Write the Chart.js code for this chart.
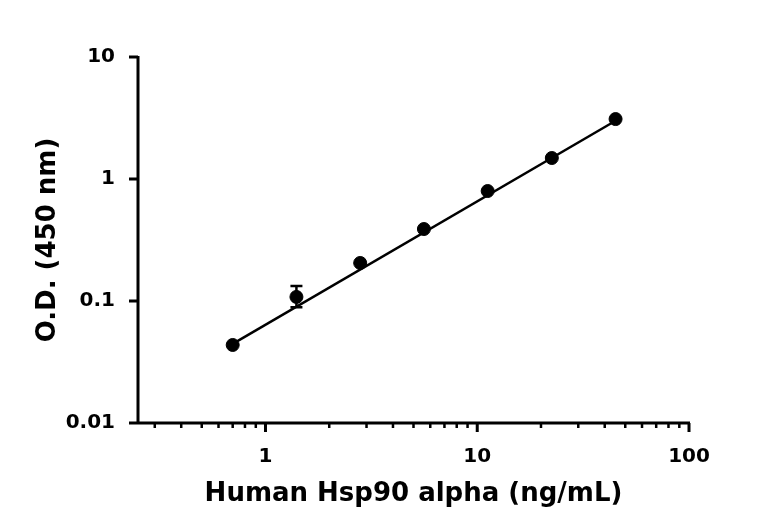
<!DOCTYPE html>
<html>
<head>
<meta charset="utf-8">
<script src="https://cdn.jsdelivr.net/npm/chart.js@4"></script>
<style>body{margin:0;background:#fff}</style>
</head>
<body>
<canvas id="c" width="768" height="532"></canvas>
<script>
// standard curve data
const conc = [0.7, 1.4, 2.8, 5.6, 11.2, 22.5, 45]
const od = [0.0436, 0.108, 0.205, 0.389, 0.797, 1.486, 3.10]
const odLow = [null, 0.089, null, null, null, null, null]
const odHigh = [null, 0.133, null, null, null, null, null]
const fitX = [0.7, 45]
const fitY = [0.0445, 3.0]
const xMajor = [1, 10, 100]
const xMinor = [0.3,0.4,0.5,0.6,0.7,0.8,0.9,2,3,4,5,6,7,8,9,20,30,40,50,60,70,80,90]
const yMajor = [0.01, 0.1, 1, 10]

const font = "'DejaVu Sans', sans-serif"

const axisPlugin = {
    id: 'axisPlugin',
    afterDatasetsDraw(chart){
        const ctx = chart.ctx
        const x = chart.scales.x
        const y = chart.scales.y
        ctx.save()
        ctx.strokeStyle = '#000'
        ctx.lineWidth = 2.5
        // error bars
        conc.forEach((c, i)=>{
            if(odLow[i]==null) return
            const px = x.getPixelForValue(c)
            const y1 = y.getPixelForValue(odLow[i])
            const y2 = y.getPixelForValue(odHigh[i])
            ctx.beginPath()
            ctx.moveTo(px, y1); ctx.lineTo(px, y2)
            ctx.moveTo(px-6, y1); ctx.lineTo(px+6, y1)
            ctx.moveTo(px-6, y2); ctx.lineTo(px+6, y2)
            ctx.stroke()
        })
        // axes
        const b = y.bottom, l = x.left
        ctx.lineWidth = 3
        ctx.beginPath()
        ctx.moveTo(l-8, b); ctx.lineTo(x.right+1, b)
        ctx.moveTo(l, b); ctx.lineTo(l, y.top-1)
        xMajor.forEach(v=>{
            const p = x.getPixelForValue(v)
            ctx.moveTo(p, b); ctx.lineTo(p, b+9)
        })
        yMajor.forEach(v=>{
            const p = y.getPixelForValue(v)
            ctx.moveTo(l, p); ctx.lineTo(l-9, p)
        })
        ctx.stroke()
        ctx.lineWidth = 2.5
        ctx.beginPath()
        xMinor.forEach(v=>{
            const p = x.getPixelForValue(v)
            ctx.moveTo(p, b); ctx.lineTo(p, b+5)
        })
        ctx.stroke()
        ctx.restore()
    }
}

new Chart(document.getElementById('c'), {
    type: 'scatter',
    data: {
        datasets: [
            {
                data: conc.map((c, i)=>({x: c, y: od[i]})),
                backgroundColor: '#000',
                borderColor: '#000',
                pointRadius: 6.5,
                showLine: false
            },
            {
                data: fitX.map((c, i)=>({x: c, y: fitY[i]})),
                borderColor: '#000',
                borderWidth: 2.5,
                pointRadius: 0,
                showLine: true
            }
        ]
    },
    options: {
        responsive: false,
        animation: false,
        layout: {padding: {top: 57, right: 79, left: 0, bottom: 0}},
        plugins: {legend: {display: false}, tooltip: {enabled: false}},
        scales: {
            x: {
                type: 'logarithmic',
                min: 0.25, max: 100,
                afterFit: s=>{ s.height = 109 },
                afterBuildTicks: s=>{ s.ticks = xMajor.map(v=>({value: v})) },
                grid: {display: false},
                border: {display: false},
                ticks: {color: '#000', padding: 14, font: {family: font, size: 20, weight: 'bold'}, callback: v=>String(v)},
                title: {display: true, text: 'Human Hsp90 alpha (ng/mL)', color: '#000',
                    font: {family: font, size: 26, weight: 'bold'}, padding: {top: 0, bottom: 22}}
            },
            y: {
                type: 'logarithmic',
                min: 0.01, max: 10,
                afterFit: s=>{ s.width = 138 },
                afterBuildTicks: s=>{ s.ticks = yMajor.map(v=>({value: v})) },
                grid: {display: false},
                border: {display: false},
                ticks: {color: '#000', padding: 15, font: {family: font, size: 20, weight: 'bold'}, callback: v=>String(v)},
                title: {display: true, text: 'O.D. (450 nm)', color: '#000',
                    font: {family: font, size: 26, weight: 'bold'}, padding: {top: 33, bottom: 0}}
            }
        }
    },
    plugins: [axisPlugin]
})
</script>
</body>
</html>
